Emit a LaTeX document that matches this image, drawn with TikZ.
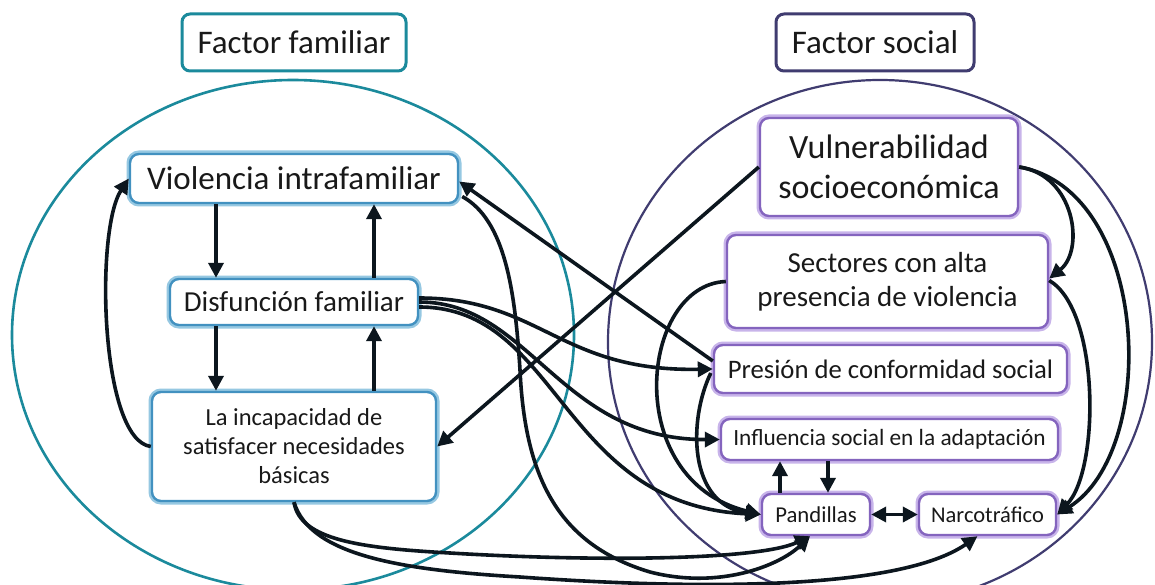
\documentclass[tikz,border=0pt]{standalone}
\usepackage{fontspec}
\setmainfont{Carlito}
\usetikzlibrary{arrows.meta,calc}
\definecolor{famline}{RGB}{27,138,156}
\definecolor{socline}{RGB}{64,60,112}
\definecolor{famglow}{RGB}{150,200,226}
\definecolor{famedge}{RGB}{66,145,192}
\definecolor{socglow}{RGB}{200,180,234}
\definecolor{socedge}{RGB}{132,100,190}
\definecolor{arrcol}{RGB}{12,22,30}
\definecolor{txt}{RGB}{25,25,25}
\begin{document}
\begin{tikzpicture}[x=1pt,y=-1pt,
  titlefam/.style={draw=famline, line width=3pt, rounded corners=8pt, fill=white, inner sep=0pt, text=txt, font=\fontsize{33}{38}\selectfont},
  titlesoc/.style={draw=socline, line width=3pt, rounded corners=8pt, fill=white, inner sep=0pt, text=txt, font=\fontsize{33}{38}\selectfont},
  fambox/.style={draw=famedge, line width=2.4pt, rounded corners=9pt, fill=white, inner sep=0pt, align=center, text=txt, preaction={draw=famglow, line width=7pt}},
  socbox/.style={draw=socedge, line width=2.4pt, rounded corners=9pt, fill=white, inner sep=0pt, align=center, text=txt, preaction={draw=socglow, line width=7pt}},
  famring/.style={draw=famline, line width=2.6pt},
  socring/.style={draw=socline, line width=2.2pt},
  conn/.style={draw=arrcol, line width=3.6pt, -{Triangle[length=15pt,width=15pt]}},
  dconn/.style={draw=arrcol, line width=3.6pt, {Triangle[length=15pt,width=15pt]}-{Triangle[length=15pt,width=15pt]}}
]
\useasboundingbox (0,0) rectangle (1155,585);
\clip (0,0) rectangle (1155,585);
\fill[white] (0,0) rectangle (1155,585);

% circles
\draw[famring] (293,335) ellipse [x radius=281pt, y radius=255pt];
\draw[socring] (880,342) ellipse [x radius=272pt, y radius=262pt];

% titles
\node[titlefam, minimum width=224pt, minimum height=57pt] (TF) at (294,42.5) {Factor familiar};
\node[titlesoc, minimum width=198pt, minimum height=57pt] (TS) at (875,42.5) {Factor social};

% family nodes
\node[fambox, minimum width=328pt, minimum height=49pt, font=\fontsize{33}{38}\selectfont] (VI) at (294,178.5) {Violencia intrafamiliar};
\node[fambox, minimum width=248pt, minimum height=46pt, font=\fontsize{29}{34}\selectfont] (DF) at (294,302) {Disfunción familiar};
\node[fambox, minimum width=284pt, minimum height=109pt, font=\fontsize{24.5}{29}\selectfont] (LI) at (294,446.5) {La incapacidad de\\satisfacer necesidades\\básicas};

% social nodes
\node[socbox, minimum width=258pt, minimum height=98pt, font=\fontsize{34}{40}\selectfont] (VS) at (889,167) {Vulnerabilidad\\socioeconómica};
\node[socbox, minimum width=321pt, minimum height=93pt, font=\fontsize{29}{34}\selectfont] (SA) at (887.5,281.5) {Sectores con alta\\presencia de violencia};
\node[socbox, minimum width=353pt, minimum height=48pt, font=\fontsize{26.7}{31}\selectfont] (PC) at (890.5,369) {Presión de conformidad social};
\node[socbox, minimum width=337pt, minimum height=41pt, font=\fontsize{23.3}{28}\selectfont] (IS) at (889.5,439.5) {Influencia social en la adaptación};
\node[socbox, minimum width=108pt, minimum height=41pt, font=\fontsize{22.7}{27}\selectfont] (PA) at (816,514.5) {Pandillas};
\node[socbox, minimum width=137pt, minimum height=41pt, font=\fontsize{22.5}{27}\selectfont] (NA) at (987.5,514.5) {Narcotráfico};

% family vertical arrows
\draw[conn] ($(VI.south)+(-78,0)$) -- ($(DF.north)+(-78,0)$);
\draw[conn] ($(DF.north)+(80,0)$) -- ($(VI.south)+(80,0)$);
\draw[conn] ($(DF.south)+(-78,0)$) -- ($(LI.north)+(-78,0)$);
\draw[conn] ($(LI.north)+(80,0)$) -- ($(DF.south)+(80,0)$);
\draw[conn] (LI.west) .. controls (100,440) and (95,230) .. (VI.west);

% crossing straight lines
\draw[conn] ($(PC.west)+(0,-8)$) -- ($(VI.east)+(0,3)$);
\draw[conn] (VS.west) -- (LI.east);

% long curves to the bottom
\draw[conn] ($(VI.east)+(3,18)$) .. controls (505,220) and (515,290) .. (520,370) .. controls (525,480) and (560,545) .. (650,572) .. controls (720,590) and (780,565) .. ($(PA.south)+(-6,0)$);
\draw[conn] (LI.south) .. controls (300,540) and (360,548) .. (450,553) .. controls (600,562) and (760,560) .. ($(PA.south)+(-6,0)$);
\draw[conn] (LI.south) .. controls (310,555) and (400,570) .. (520,577) .. controls (700,590) and (900,590) .. ($(NA.south)+(-10,0)$);

% bundle from Disfuncion familiar
\draw[conn] ($(DF.east)+(0,-4)$) .. controls (540,298) and (560,372) .. (PC.west);
\draw[conn] (DF.east) .. controls (530,302) and (560,440) .. (IS.west);
\draw[conn] ($(DF.east)+(0,5)$) .. controls (560,307) and (560,505) .. (PA.west);

% social side curves
\draw[conn] (SA.west) .. controls (640,285) and (620,480) .. (PA.west);
\draw[conn] ($(PC.west)+(-2,4)$) .. controls (688,420) and (688,505) .. (PA.west);
\draw[conn] (VS.east) .. controls (1075,175) and (1085,250) .. ($(SA.east)+(0,-3)$);
\draw[conn] (VS.east) .. controls (1150,190) and (1160,450) .. (NA.east);
\draw[conn] ($(SA.east)+(0,-1)$) .. controls (1100,310) and (1100,470) .. (NA.east);

% Pandillas links
\draw[dconn] (PA.east) -- (NA.west);
\coordinate (pu) at ($(PA.north)+(-36,0)$);
\coordinate (pd) at ($(PA.north)+(12,0)$);
\draw[conn] (pu) -- (pu |- IS.south);
\draw[conn] (pd |- IS.south) -- (pd);
\end{tikzpicture}
\end{document}
